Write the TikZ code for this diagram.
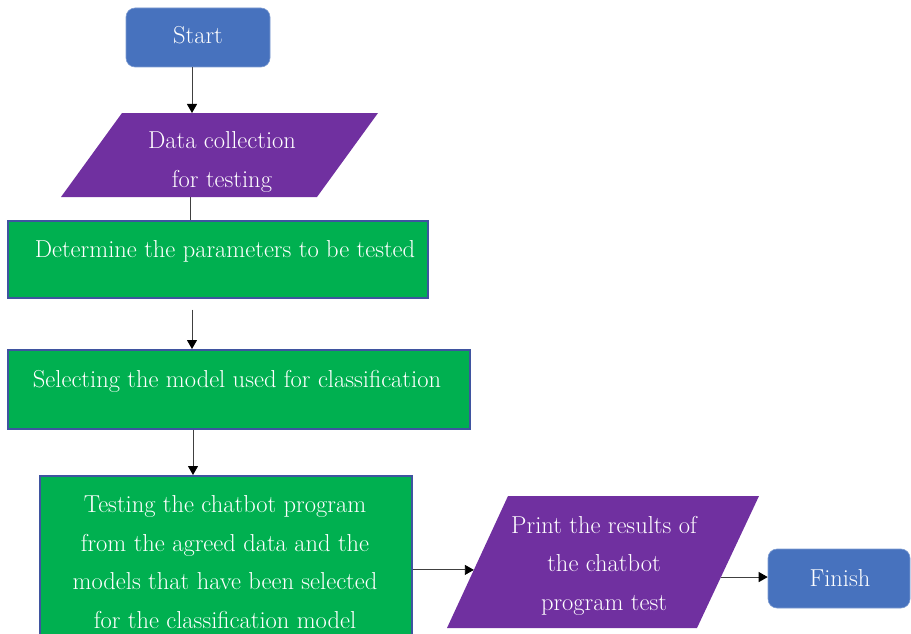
\documentclass[tikz,border=0pt]{standalone}
\usetikzlibrary{arrows.meta,calc}
\definecolor{termblue}{RGB}{71,114,190}
\definecolor{iopurple}{RGB}{112,48,160}
\definecolor{procgreen}{RGB}{0,176,80}
\definecolor{procedge}{RGB}{63,84,160}
\tikzset{
  lbl/.style={text=white, font=\fontsize{24.5}{38.5}\selectfont, align=center, anchor=base, inner sep=0pt},
  term/.style={fill=termblue, draw=termblue!70!white, line width=0.6pt, rounded corners=9pt, inner sep=0pt},
  proc/.style={fill=procgreen, draw=procedge, line width=1.6pt, inner sep=0pt, anchor=north west},
  io/.style={fill=iopurple},
  arr/.style={line width=0.9pt, draw=black!75, -{Triangle[length=9pt,width=10pt,fill=black,color=black]}},
  link/.style={line width=0.9pt, draw=black!75}
}
\begin{document}
\begin{tikzpicture}[x=1pt,y=-1pt]
\useasboundingbox (0,0) rectangle (911,634);
\coordinate (spineA) at (190,0);
\coordinate (spine) at (192,0);
\coordinate (spineB) at (193,0);

% terminals
\node[term, minimum width=144pt, minimum height=59pt] (start) at (198,37.5) {};
\node[lbl] (startt) at (198,44) {Start};
\node[term, minimum width=142pt, minimum height=59pt] (finish) at (839,578.5) {};
\node[lbl] (finisht) at (840,586) {Finish};

% input / output shapes (multi-line labels are placed by their last baseline)
\path[io] (122,113) coordinate (d1) -- (378,113) coordinate (d2)
  -- (317,197) coordinate (d3) -- (61,197) coordinate (d4) -- cycle;
\node[lbl] (datat) at (222,187) {Data collection\\for testing};
\path[io] (508,496) coordinate (r1) -- (759,496) coordinate (r2)
  -- (697,628) coordinate (r3) -- (447,628) coordinate (r4) -- cycle;
\node[lbl] (printt) at (604,610) {Print the results of\\the chatbot\\program test};

% process boxes
\node[proc, minimum width=420pt, minimum height=77pt] (p1) at (7,220) {};
\node[lbl] (p1t) at (225,257) {Determine the parameters to be tested};
\node[proc, minimum width=462pt, minimum height=79pt] (p2) at (7,349) {};
\node[lbl] (p2t) at (237,387) {Selecting the model used for classification};
\node[proc, minimum width=372pt, minimum height=175pt] (p3) at (39,475) {};
\node[lbl] (p3t) at (225,628) {Testing the chatbot program\\from the agreed data and the\\models that have been selected\\for the classification model};

% connectors
\draw[arr] (start.south -| spine) -- (spine |- d1);
\draw[link] (d4 -| spineA) -- (p1.north -| spineA);
\draw[arr, shorten <=11pt] (p1.south -| spine) -- (p2.north -| spine);
\draw[arr] (p2.south -| spineB) -- (p3.north -| spineB);
\coordinate (pin) at ($(r4)!0.44!(r1)$);
\draw[arr] (pin -| p3.east) -- (pin);
\coordinate (pout) at ($(r3)!0.386!(r2)$);
\draw[arr] (pout) -- (finish.west |- pout);
\end{tikzpicture}
\end{document}
